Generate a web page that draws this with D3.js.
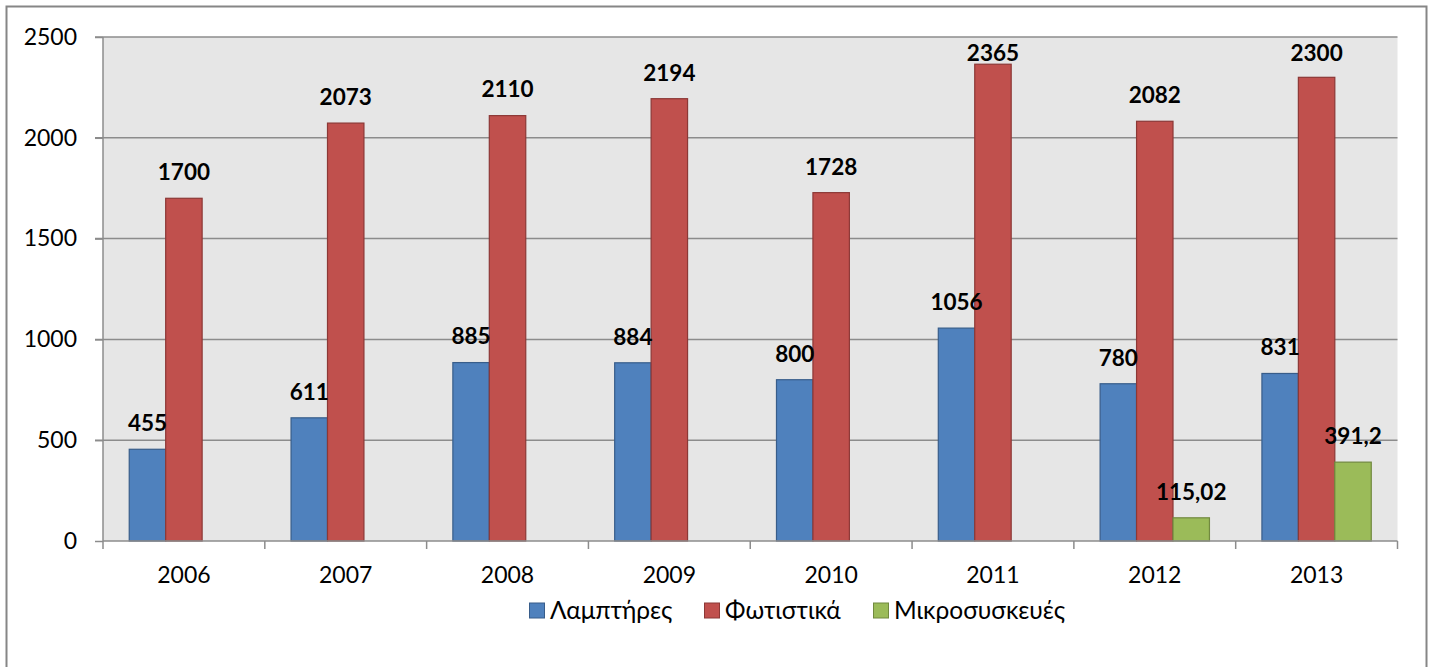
<!DOCTYPE html>
<html>
<head>
<meta charset="utf-8">
<script src="https://cdn.jsdelivr.net/npm/d3@7.9.0/dist/d3.min.js"></script>
<style>
  html, body { margin: 0; padding: 0; background: #fff; }
  svg { display: block; font-family: Lato, "Open Sans", sans-serif; }
</style>
</head>
<body>
<svg id="chart" width="1433" height="667"></svg>
<script>
const YEARS = ['2006', '2007', '2008', '2009', '2010', '2011', '2012', '2013'];
const SERIES = ['Λαμπτήρες', 'Φωτιστικά', 'Μικροσυσκευές'];
const LAMPS    = [455, 611, 885, 884, 800, 1056, 780, 831];
const FIXTURES = [1700, 2073, 2110, 2194, 1728, 2365, 2082, 2300];
const SMALL    = [null, null, null, null, null, null, 115.02, 391.2];
const Y_TICKS  = [0, 500, 1000, 1500, 2000, 2500];

const fill   = {'Λαμπτήρες': '#4f81bd', 'Φωτιστικά': '#c0504d', 'Μικροσυσκευές': '#9bbb59'};
const stroke = {'Λαμπτήρες': '#385d8a', 'Φωτιστικά': '#8c3836', 'Μικροσυσκευές': '#71893f'};

const valuesBySeries = [LAMPS, FIXTURES, SMALL];
const rows = YEARS.map((yr, i) => ({
  year: yr,
  bars: SERIES.map((s, k) => ({series: s, value: valuesBySeries[k][i]}))
}));

const svg = d3.select('#chart');
const plot = {left: 103, right: 1397.5, top: 37, bottom: 541};

// outer chart border
svg.append('rect')
  .attr('x', 6.5).attr('y', 6.5)
  .attr('width', 1420).attr('height', 720)
  .attr('fill', '#fff')
  .attr('stroke', '#868686')
  .attr('stroke-width', 2);

const x0 = d3.scaleBand().domain(YEARS).range([plot.left, plot.right]);
const x1 = d3.scaleBand().domain(SERIES).range([0, x0.bandwidth()])
  .paddingInner(0).paddingOuter(0.72);
const y = d3.scaleLinear().domain([0, 2500]).range([plot.bottom, plot.top]);

svg.append('rect')
  .attr('x', plot.left).attr('y', plot.top)
  .attr('width', plot.right - plot.left).attr('height', plot.bottom - plot.top)
  .attr('fill', '#e6e6e6');

// gridlines
svg.append('g').selectAll('line')
  .data(Y_TICKS.filter(d => d > 0)).join('line')
  .attr('x1', plot.left - 8).attr('x2', plot.right)
  .attr('y1', d => y(d)).attr('y2', d => y(d))
  .attr('stroke', '#8c8c8c').attr('stroke-width', 1.5);

// y axis
const yAxis = svg.append('g')
  .attr('transform', `translate(${plot.left},0)`)
  .call(d3.axisLeft(y).tickValues(Y_TICKS).tickFormat(d3.format('d'))
    .tickSize(8).tickPadding(18));
yAxis.select('.domain').attr('stroke', '#8c8c8c').attr('stroke-width', 1.5)
  .attr('d', `M0,${plot.top}V${plot.bottom}`);
yAxis.selectAll('.tick line').attr('stroke', '#8c8c8c').attr('stroke-width', 1.5);
yAxis.selectAll('.tick text').attr('font-size', 23).attr('fill', '#000')
  .attr('font-family', 'Lato');

// bars
const groups = svg.append('g').selectAll('g')
  .data(rows).join('g')
  .attr('transform', d => `translate(${x0(d.year)},0)`);

groups.selectAll('rect')
  .data(d => d.bars.filter(b => b.value != null)).join('rect')
  .attr('x', d => x1(d.series))
  .attr('width', x1.bandwidth())
  .attr('y', d => y(d.value))
  .attr('height', d => y(0) - y(d.value))
  .attr('fill', d => fill[d.series])
  .attr('stroke', d => stroke[d.series])
  .attr('stroke-width', 1.2);

// x axis
const xAxis = svg.append('g')
  .attr('transform', `translate(0,${plot.bottom})`)
  .call(d3.axisBottom(x0).tickSize(0).tickPadding(26));
xAxis.select('.domain').attr('stroke', '#8c8c8c').attr('stroke-width', 1.5)
  .attr('d', `M${plot.left},0H${plot.right}`);
xAxis.selectAll('.tick text').attr('font-size', 23).attr('fill', '#000')
  .attr('font-family', 'Lato');
xAxis.append('g').selectAll('line')
  .data(YEARS.concat(['end'])).join('line')
  .attr('x1', (d, i) => i < YEARS.length ? x0(d) : plot.right)
  .attr('x2', (d, i) => i < YEARS.length ? x0(d) : plot.right)
  .attr('y1', 0).attr('y2', 8)
  .attr('stroke', '#8c8c8c').attr('stroke-width', 1.5);

// data labels
const fmt = v => String(v).replace('.', ',');
groups.selectAll('text.lbl')
  .data(d => d.bars.filter(b => b.value != null)).join('text')
  .attr('class', 'lbl')
  .attr('x', d => x1(d.series) + x1.bandwidth() / 2)
  .attr('y', d => Math.max(y(d.value) - 26, plot.top + 16))
  .attr('dy', '0.35em')
  .attr('text-anchor', 'middle')
  .attr('font-size', 22.5)
  .attr('font-weight', 'bold')
  .attr('fill', '#000')
  .text(d => fmt(d.value));

// legend
const legendItems = [
  {name: SERIES[0], x: 529},
  {name: SERIES[1], x: 704},
  {name: SERIES[2], x: 873}
];
const legend = svg.append('g').selectAll('g')
  .data(legendItems).join('g')
  .attr('transform', d => `translate(${d.x},602.5)`);
legend.append('rect')
  .attr('x', 0.5).attr('y', 0.5)
  .attr('width', 15).attr('height', 15)
  .attr('fill', d => fill[d.name])
  .attr('stroke', d => stroke[d.name]);
legend.append('text')
  .attr('x', 21).attr('y', 8)
  .attr('dy', '0.35em')
  .attr('font-size', 24.5)
  .attr('fill', '#000')
  .text(d => d.name);
</script>
</body>
</html>
